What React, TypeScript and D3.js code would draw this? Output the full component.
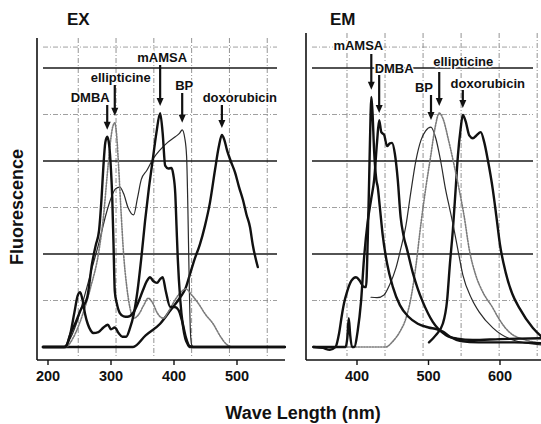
import React from "react";
import * as d3 from "d3";

type Pt = [number, number];

const panelTitles = ["EX", "EM"];
const yAxisLabel = "Fluorescence";
const xAxisLabel = "Wave Length (nm)";
const exTickValues = [200, 300, 400, 500];
const emTickValues = [400, 500, 600];
const seriesNames = ["DMBA", "ellipticine", "mAMSA", "BP", "doxorubicin"];

// Excitation spectra (wavelength nm, relative fluorescence)
const exDMBA: Pt[] = [[192,0],[228,0],[235,0.26],[243,0.5],[252,0.8],[262,1.05],[270,1.8],[276,2.2],[281,2.5],[285,3.2],[288,3.9],[291,4.4],[294,4.52],[297,4.35],[300,3.8],[302,3.2],[304,2.2],[306,1.2],[309,0.95],[314,0.73],[320,0.66],[326,0.65],[335,0.73],[343,0.95],[351,1.23],[357,1.42],[362,1.5],[367,1.42],[373,1.38],[378,1.46],[382,1.5],[387,1.2],[394,0.86],[401,0.86],[407,0.8],[413,0.55],[419,0.2],[424,0.03],[430,0],[576,0]];
const exEllipticine: Pt[] = [[192,0],[228,0],[240,0.2],[255,0.7],[268,1.3],[280,2.0],[288,2.8],[294,3.7],[299,4.4],[303,4.75],[306,4.82],[309,4.55],[312,3.9],[316,2.9],[320,2.0],[325,1.3],[330,0.85],[336,0.62],[344,0.7],[352,0.9],[359,1.05],[366,0.95],[374,0.72],[383,0.62],[392,0.78],[402,1.02],[411,1.18],[419,1.25],[428,1.12],[438,0.95],[450,0.7],[462,0.5],[474,0.22],[484,0.05],[494,0],[576,0]];
const exMAMSA: Pt[] = [[192,0],[226,0],[234,0.2],[242,0.75],[247,1.1],[251,1.18],[255,1.0],[259,0.7],[263,0.5],[268,0.35],[272,0.3],[280,0.32],[288,0.42],[295,0.48],[300,0.38],[306,0.42],[312,0.3],[318,0.22],[324,0.22],[330,0.4],[336,0.7],[342,1.2],[348,1.9],[354,2.7],[360,3.4],[366,4.0],[372,4.6],[378,5.03],[382,4.6],[386,3.9],[391,3.84],[396,3.85],[399,3.7],[402,3.3],[404,2.6],[406,1.9],[410,1.0],[414,0.47],[418,0.18],[421,0.08],[425,0],[576,0]];
const exBP: Pt[] = [[192,0],[224,0],[234,0.15],[245,0.5],[258,1.1],[270,1.7],[282,2.3],[292,2.85],[300,3.2],[307,3.4],[314,3.44],[320,3.3],[327,3.0],[336,2.84],[342,3.2],[348,3.6],[357,3.8],[367,4.05],[378,4.24],[390,4.4],[402,4.52],[409,4.6],[413,4.67],[417,4.5],[420,4.1],[422,3.0],[424,1.5],[426,0.35],[428,0.05],[431,0],[576,0]];
const exDoxorubicin: Pt[] = [[192,0],[335,0],[355,0.25],[378,0.5],[395,0.8],[410,1.07],[418,1.25],[425,1.55],[433,1.9],[441,2.2],[449,2.6],[457,3.1],[465,3.8],[471,4.3],[476,4.56],[480,4.45],[484,4.24],[490,4.0],[497,3.75],[503,3.45],[509.5,3.16],[515,2.85],[520.6,2.58],[525,2.2],[533,1.72]];

// Emission spectra
const emDMBA: Pt[] = [[339,0],[384,0],[386.5,0.2],[388.5,0.62],[390.5,0.25],[393,0],[396,0],[401,0.35],[405.6,0.97],[409.8,1.9],[415,2.7],[420,3.2],[424,3.6],[428,4.4],[431,4.88],[434,4.62],[438,4.56],[442,4.32],[446,4.38],[449,4.39],[453,4.15],[457,3.6],[461,2.8],[465,2.4],[470,2.1],[478,1.6],[485,1.25],[492,0.97],[506,0.54],[524,0.26],[540,0.18],[562,0.15],[600,0.17],[660,0.19]];
const emEllipticine: Pt[] = [[339,0],[440,0],[450,0.12],[460,0.33],[468.5,0.62],[476,1.1],[482.5,1.76],[489,2.6],[496,3.4],[503,4.1],[509,4.7],[515,5.03],[520,4.92],[528,4.45],[536,3.9],[543,3.38],[550,2.8],[557,2.1],[566,1.55],[576,1.18],[590,0.84],[598,0.62],[608,0.4],[618,0.26],[632,0.17],[646,0.11],[660,0.08]];
const emMAMSA: Pt[] = [[339,0],[352,-0.02],[362,-0.06],[370,0],[375,0.3],[379,0.7],[382,0.95],[386,1.18],[392,1.42],[398.6,1.5],[404,1.42],[409,1.3],[412.6,1.29],[415,2.3],[417,3.6],[419,5.0],[420,5.38],[421.5,5.1],[424,4.2],[427,3.6],[429,3.44],[432,3.0],[436,2.4],[442,1.8],[450,1.3],[460,0.9],[472,0.65],[485,0.5],[500,0.42],[512,0.38],[520,0.33],[530,0.22],[545,0.13],[570,0.1],[620,0.1],[660,0.08]];
const emBP: Pt[] = [[419.6,1.07],[428,1.06],[437.8,1.12],[446,1.35],[454.5,1.7],[461,2.1],[468.5,2.62],[475,3.3],[482.5,4.02],[489.5,4.45],[496,4.65],[503.5,4.73],[510,4.5],[517,4.0],[524,3.38],[530,2.95],[534,2.66],[541,2.1],[548,1.55],[560,1.05],[571,0.75],[590,0.41],[618,0.15],[660,0.04]];
const emDoxorubicin: Pt[] = [[500.7,0.1],[510,0.25],[520,0.5],[526,1.0],[530,1.8],[534,2.5],[538,3.4],[541,4.09],[545,4.7],[548,4.99],[552,4.85],[557,4.55],[562,4.49],[567,4.55],[573,4.62],[578,4.4],[583,4.02],[590,3.38],[595,2.8],[600,2.2],[608,1.6],[617,1.15],[627,0.84],[646,0.41],[660,0.2]];

const solidGridLevels = [2, 4, 6];
const dottedGridLevels = [1, 3, 5, 6.45];

const FONT = "'Liberation Sans', Arial, Helvetica, sans-serif";

type Style = { stroke: string; width: number; dash?: string };
const styles: Record<string, Style> = {
  DMBA: { stroke: "#111", width: 2.4 },
  ellipticine: { stroke: "#7a7a7a", width: 1.6, dash: "1.4 1.4" },
  mAMSA: { stroke: "#111", width: 2.4 },
  BP: { stroke: "#2a2a2a", width: 1.2 },
  doxorubicin: { stroke: "#111", width: 2.4 },
};

type Note = { name: string; dx: number; labelY: number; arrowTop: number };

const yScale = d3.scaleLinear().domain([0, 6]).range([347, 68]);

function Panel(props: {
  id: string;
  title: string;
  titleX: number;
  xScale: d3.ScaleLinear<number, number>;
  left: number;
  right: number;
  top: number;
  ticks: number[];
  grid: number[];
  series: Record<string, Pt[]>;
  notes: Note[];
}) {
  const { id, title, titleX, xScale, left, right, top, ticks, grid, series, notes } = props;
  const bottom = 360;
  const line = d3
    .line<Pt>()
    .x((d) => xScale(d[0]))
    .y((d) => yScale(d[1]))
    .curve(d3.curveMonotoneX);
  const order = ["doxorubicin", "BP", "ellipticine", "DMBA", "mAMSA"];
  return (
    <g>
      <defs>
        <clipPath id={`clip-${id}`}>
          <rect x={left + 1} y={top} width={right - left} height={bottom - top - 1} />
        </clipPath>
      </defs>
      {grid.map((g, i) => (
        <line key={`vg${i}`} x1={xScale(g)} x2={xScale(g)} y1={top} y2={bottom - 4}
          stroke="#777" strokeWidth={0.8} strokeDasharray="5 2 1 2" />
      ))}
      {dottedGridLevels.map((v, i) => (
        <line key={`dg${i}`} x1={left + 6} x2={right - 8} y1={yScale(v)} y2={yScale(v)}
          stroke="#888" strokeWidth={0.8} strokeDasharray="5 2 1 2" />
      ))}
      {solidGridLevels.map((v, i) => (
        <line key={`sg${i}`} x1={left + 6} x2={right - 8} y1={yScale(v)} y2={yScale(v)}
          stroke="#1a1a1a" strokeWidth={1.3} />
      ))}
      <g clipPath={`url(#clip-${id})`}>
        {order.map((name) => {
          const st = styles[name];
          return (
            <path key={name} d={line(series[name]) || ""} fill="none" stroke={st.stroke}
              strokeWidth={st.width} strokeDasharray={st.dash} strokeLinejoin="round" strokeLinecap="round" />
          );
        })}
      </g>
      <line x1={left} x2={left} y1={top} y2={bottom} stroke="#111" strokeWidth={1.6} />
      <line x1={left} x2={right} y1={bottom} y2={bottom} stroke="#111" strokeWidth={1.6} />
      {ticks.map((t) => (
        <g key={t}>
          <line x1={xScale(t)} x2={xScale(t)} y1={bottom} y2={bottom + 5} stroke="#111" strokeWidth={1.4} />
          <text x={xScale(t)} y={381} textAnchor="middle" fontFamily={FONT} fontWeight="bold" fontSize={14.5} fill="#111">
            {t}
          </text>
        </g>
      ))}
      <text x={titleX} y={25} fontFamily={FONT} fontWeight="bold" fontSize={17} fill="#111">
        {title}
      </text>
      {notes.map((n) => {
        const data = series[n.name];
        const peak = d3.greatest(data, (d) => d[1]) as Pt;
        const ax = xScale(peak[0]);
        const tip = yScale(peak[1]) - 7;
        return (
          <g key={n.name}>
            <line x1={ax} x2={ax} y1={n.arrowTop} y2={tip - 6} stroke="#111" strokeWidth={2.2} />
            <path d={`M${ax - 3.5},${tip - 8} L${ax + 3.5},${tip - 8} L${ax},${tip} Z`} fill="#111" />
            <text x={ax + n.dx} y={n.labelY} textAnchor="middle" fontFamily={FONT} fontWeight="bold"
              fontSize={13} fill="#111" stroke="#fff" strokeWidth={3} paintOrder="stroke">
              {n.name}
            </text>
          </g>
        );
      })}
    </g>
  );
}

export default function App() {
  const exX = d3.scaleLinear().domain([200, 500]).range([48, 237]);
  const emX = d3.scaleLinear().domain([400, 600]).range([357, 500]);
  const exSeries: Record<string, Pt[]> = {
    DMBA: exDMBA, ellipticine: exEllipticine, mAMSA: exMAMSA, BP: exBP, doxorubicin: exDoxorubicin,
  };
  const emSeries: Record<string, Pt[]> = {
    DMBA: emDMBA, ellipticine: emEllipticine, mAMSA: emMAMSA, BP: emBP, doxorubicin: emDoxorubicin,
  };
  const exNotes: Note[] = [
    { name: seriesNames[0], dx: -17, labelY: 102, arrowTop: 105 },
    { name: seriesNames[1], dx: 6, labelY: 82, arrowTop: 85 },
    { name: seriesNames[2], dx: 2, labelY: 62, arrowTop: 65 },
    { name: seriesNames[3], dx: 2, labelY: 90, arrowTop: 93 },
    { name: seriesNames[4], dx: 18, labelY: 102, arrowTop: 105 },
  ];
  const emNotes: Note[] = [
    { name: seriesNames[2], dx: -13, labelY: 50, arrowTop: 54 },
    { name: seriesNames[0], dx: 15, labelY: 73, arrowTop: 75 },
    { name: seriesNames[3], dx: -7, labelY: 92, arrowTop: 95 },
    { name: seriesNames[1], dx: 24, labelY: 66, arrowTop: 72 },
    { name: seriesNames[4], dx: 25, labelY: 88, arrowTop: 90 },
  ];
  return (
    <svg width={541} height={424} viewBox="0 0 541 424"
      style={{ position: "absolute", left: 0, top: 0, background: "#fff" }}>
      <rect x={0} y={0} width={541} height={424} fill="#fff" />
      <Panel id="ex" title={panelTitles[0]} titleX={67} xScale={exX} left={37} right={285} top={38}
        ticks={exTickValues} grid={d3.range(248, 560, 60)} series={exSeries} notes={exNotes} />
      <Panel id="em" title={panelTitles[1]} titleX={330} xScale={emX} left={306} right={541} top={33}
        ticks={emTickValues} grid={d3.range(386, 660, 53.2)} series={emSeries} notes={emNotes} />
      <text transform="translate(23,207) rotate(-90)" textAnchor="middle" fontFamily={FONT}
        fontWeight="bold" fontSize={18} fill="#111">
        {yAxisLabel}
      </text>
      <text x={303} y={419} textAnchor="middle" fontFamily={FONT} fontWeight="bold" fontSize={18} fill="#111">
        {xAxisLabel}
      </text>
    </svg>
  );
}
